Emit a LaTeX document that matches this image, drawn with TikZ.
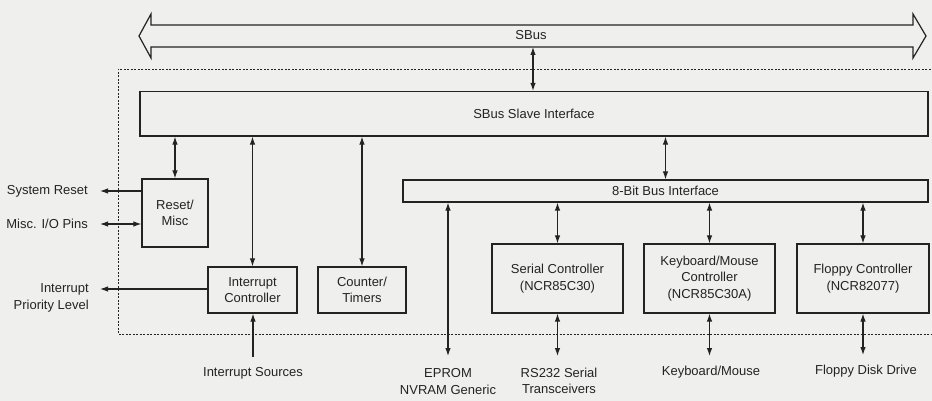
\documentclass[tikz,border=0pt]{standalone}
\usepackage{fontspec}
\setmainfont{Liberation Sans}
\usetikzlibrary{arrows.meta}
\definecolor{bg}{RGB}{239,239,237}
\definecolor{ink}{RGB}{35,35,35}
\begin{document}
\begin{tikzpicture}[x=1pt,y=-1pt,
  txt/.style={text=ink, font=\fontsize{13}{16.5}\selectfont},
  box/.style={txt, draw=ink, line width=1.2pt, inner sep=0pt, align=center},
  lbl/.style={txt, inner sep=0pt, align=center},
  conn/.style={draw=ink, line width=1.1pt, {Latex[length=8pt,width=5.5pt]}-{Latex[length=8pt,width=5.5pt]}},
  oneway/.style={draw=ink, line width=1.1pt, -{Latex[length=8pt,width=5.5pt]}},
  dashedline/.style={draw=ink, line width=0.9pt, dash pattern=on 2pt off 1.5pt}
]
\fill[bg] (0,0) rectangle (932,401);
\useasboundingbox (0,0) rectangle (932,401);

% SBus double arrow
\draw[ink, line width=1.2pt, line join=miter]
  (139,36) -- (151,14) -- (151,25) -- (913,25) -- (913,14) -- (926,36)
  -- (913,58) -- (913,47) -- (151,47) -- (151,58) -- cycle;
\node[lbl] (sbus) at (531,35) {SBus};
\coordinate (sbusb) at (533,47);

% dashed chip outline
\draw[dashedline] (934,69) -- (118,69) -- (118,334) -- (934,334);

% boxes
\node[box, minimum width=788, minimum height=44.5] (slave) at (534,113.75) {SBus Slave Interface};
\node[box, minimum width=66, minimum height=68] (reset) at (175,213) {Reset/\\Misc};
\node[box, minimum width=89, minimum height=46] (intc) at (252.5,290) {Interrupt\\Controller};
\node[box, minimum width=88, minimum height=46] (count) at (362,290) {Counter/\\Timers};
\node[box, minimum width=525, minimum height=22] (bus8) at (665.5,191) {8-Bit Bus Interface};
\node[box, minimum width=131, minimum height=69] (serial) at (557.5,278.5) {Serial Controller\\(NCR85C30)};
\node[box, minimum width=131, minimum height=69] (kbd) at (709.5,278.5) {Keyboard/Mouse\\Controller\\(NCR85C30A)};
\node[box, minimum width=132, minimum height=69] (floppy) at (863,278.5) {Floppy Controller\\(NCR82077)};

% left side signals
\coordinate (sysc) at (100,191);
\coordinate (miscc) at (100,224);
\coordinate (iplc) at (100,289);
\node[lbl, anchor=east] (sysr) at (88,191) {System Reset};
\node[lbl, anchor=east] (misc) at (88,224) {Misc. I/O Pins};
\node[lbl, anchor=east, align=right] (ipl) at (89,298) {Interrupt\\Priority Level};
\draw[oneway] (reset.west |- sysc) -- (sysc);
\draw[conn] (miscc) -- (reset.west |- miscc);
\draw[oneway] (intc.west |- iplc) -- (iplc);

% bottom signals
\coordinate (isrc) at (253,357);
\coordinate (epc) at (448,356);
\coordinate (rsc) at (557.5,356);
\coordinate (kbc) at (709.5,356);
\coordinate (flc) at (863,355);
\node[lbl] (isl) at (253,373) {Interrupt Sources};
\node[lbl] (epl) at (448,381.5) {EPROM\\NVRAM Generic};
\node[lbl] (rsl) at (559,381) {RS232 Serial\\Transceivers};
\node[lbl] (kbl) at (711,372) {Keyboard/Mouse};
\node[lbl] (fll) at (866,371) {Floppy Disk Drive};

% connectors
\draw[conn] (sbusb) -- (sbusb |- slave.north);
\draw[conn] (reset.north) -- (reset.north |- slave.south);
\draw[conn] (intc.north) -- (intc.north |- slave.south);
\draw[conn] (count.north) -- (count.north |- slave.south);
\draw[conn] (bus8.north) -- (bus8.north |- slave.south);
\draw[conn] (serial.north) -- (serial.north |- bus8.south);
\draw[conn] (kbd.north) -- (kbd.north |- bus8.south);
\draw[conn] (floppy.north) -- (floppy.north |- bus8.south);
\draw[conn] (epc |- bus8.south) -- (epc);
\draw[conn] (serial.south) -- (rsc);
\draw[conn] (kbd.south) -- (kbc);
\draw[conn] (floppy.south) -- (flc);
\draw[oneway] (isrc) -- (isrc |- intc.south);
\end{tikzpicture}
\end{document}
